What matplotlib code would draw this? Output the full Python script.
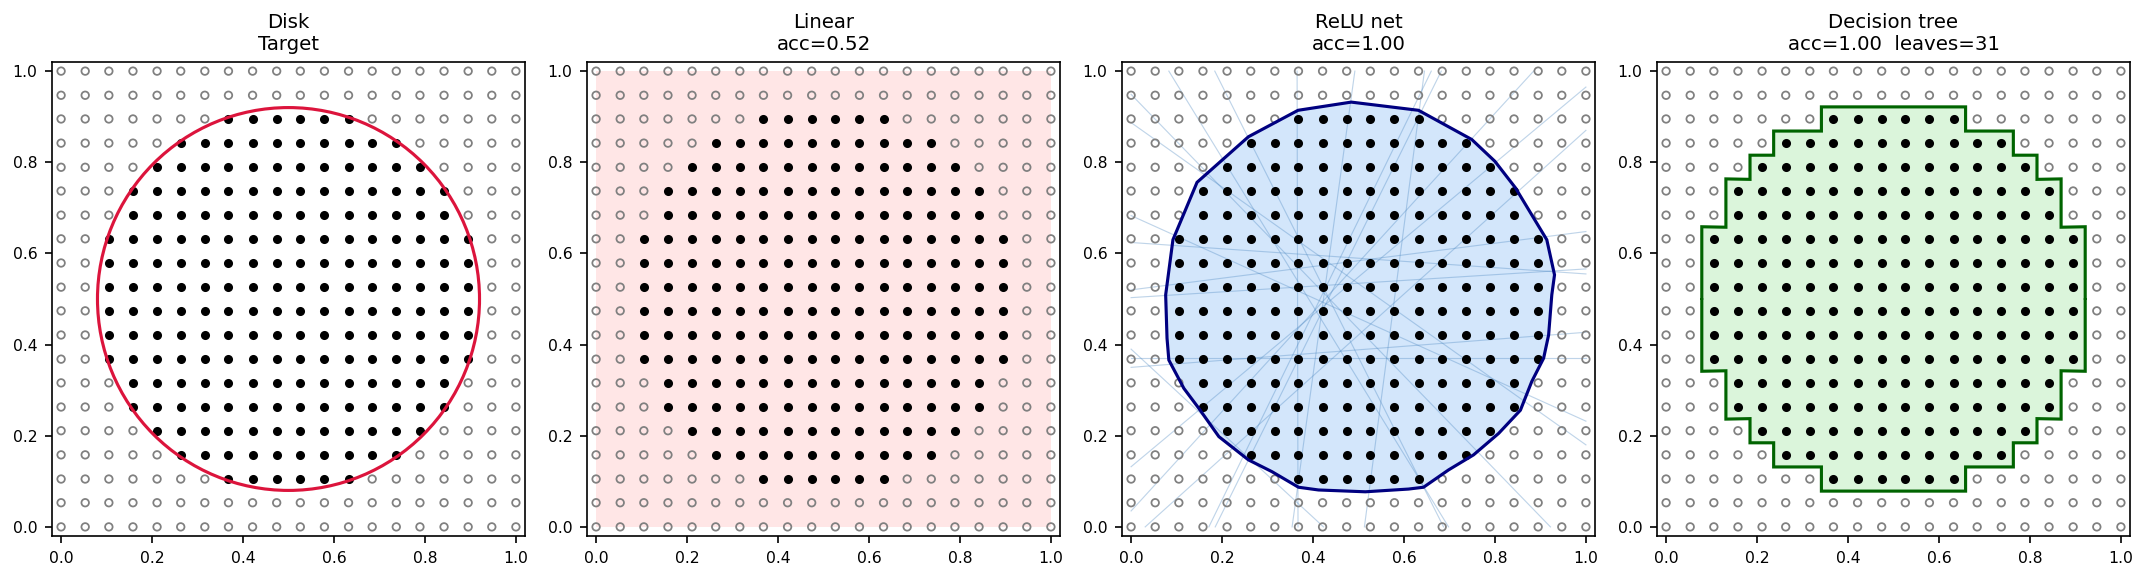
import matplotlib
matplotlib.use('Agg')
import matplotlib.pyplot as plt
from matplotlib.patches import Circle, Polygon

# sample grid (20 x 20 points on the unit square)
grid = [0.0, 0.053, 0.105, 0.158, 0.211, 0.263, 0.316, 0.368, 0.421, 0.474,
        0.526, 0.579, 0.632, 0.684, 0.737, 0.789, 0.842, 0.895, 0.947, 1.0]

# inside-disk points: first / last column index per row (bottom -> top), None = empty row
row_first = [None, None, 7, 5, 4, 3, 3, 2, 2, 2, 2, 2, 2, 3, 3, 4, 5, 7, None, None]
row_last = [None, None, 12, 14, 15, 16, 16, 17, 17, 17, 17, 17, 17, 16, 16, 15, 14, 12, None, None]

disk_center = (0.5, 0.5)
disk_radius = 0.42

titles = ['Disk\nTarget', 'Linear\nacc=0.52', 'ReLU net\nacc=1.00',
          'Decision tree\nacc=1.00  leaves=31']

# ReLU net decision boundary
relu_x = [0.484, 0.632, 0.749, 0.800, 0.845, 0.914, 0.931, 0.925, 0.918, 0.907,
          0.881, 0.856, 0.808, 0.753, 0.698, 0.643, 0.610, 0.515, 0.412, 0.368,
          0.310, 0.258, 0.193, 0.149, 0.116, 0.083, 0.079, 0.076, 0.092, 0.145,
          0.258, 0.367]
relu_y = [0.932, 0.914, 0.850, 0.802, 0.744, 0.630, 0.553, 0.509, 0.421, 0.370,
          0.319, 0.256, 0.205, 0.158, 0.125, 0.087, 0.083, 0.077, 0.081, 0.087,
          0.121, 0.147, 0.198, 0.260, 0.304, 0.366, 0.414, 0.509, 0.630, 0.756,
          0.856, 0.914]

# hidden-unit hyperplanes, clipped to the unit square (x0, y0) -> (x1, y1)
unit_x0 = [0.083, 0.184, 0.365, 0.492, 0.645, 0.682, 0.885, 0.031, 0.0, 0.0,
           0.0, 0.0, 0.0, 0.0, 0.0, 0.0, 0.0, 0.0, 0.171]
unit_y0 = [1.0, 1.0, 1.0, 1.0, 1.0, 1.0, 1.0, 0.0, 0.132, 0.949,
           0.887, 0.683, 0.624, 0.520, 0.503, 0.390, 0.370, 0.350, 0.0]
unit_x1 = [0.698, 0.687, 0.367, 0.354, 0.513, 0.185, 0.0, 1.0, 1.0, 0.922,
           1.0, 1.0, 1.0, 1.0, 1.0, 0.423, 1.0, 1.0, 0.660]
unit_y1 = [0.0, 0.0, 0.0, 0.0, 0.0, 0.0, 0.035, 0.870, 0.965, 0.0,
           0.180, 0.232, 0.555, 0.648, 0.566, 0.0, 0.370, 0.427, 1.0]


def split_points():
    inx, iny, outx, outy = [], [], [], []
    for j, y in enumerate(grid):
        for i, x in enumerate(grid):
            a, b = row_first[j], row_last[j]
            if a is not None and a <= i <= b:
                inx.append(x)
                iny.append(y)
            else:
                outx.append(x)
                outy.append(y)
    return inx, iny, outx, outy


def tree_outline():
    half = (grid[1] - grid[0]) / 2
    right, left = [], []
    for j, y in enumerate(grid):
        if row_first[j] is None:
            continue
        xl = grid[row_first[j]] - half
        xr = grid[row_last[j]] + half
        right += [(xr, y - half), (xr, y + half)]
        left += [(xl, y - half), (xl, y + half)]
    return right + left[::-1]


def main():
    inx, iny, outx, outy = split_points()

    W, H, dpi = 2146, 576, 150
    fig = plt.figure(figsize=(W / dpi, H / dpi), dpi=dpi)

    lefts = [52, 587, 1122, 1657]
    axes = [fig.add_axes([l / W, 40 / H, 473 / W, 474 / H]) for l in lefts]

    for ax, title in zip(axes, titles):
        ax.scatter(outx, outy, s=13, facecolors='none', edgecolors='gray',
                   linewidths=0.85, zorder=2)
        ax.scatter(inx, iny, s=19, color='black', linewidths=0, zorder=2)
        ax.set_xlim(-0.02, 1.02)
        ax.set_ylim(-0.02, 1.02)
        ax.set_xticks([0.0, 0.2, 0.4, 0.6, 0.8, 1.0])
        ax.set_yticks([0.0, 0.2, 0.4, 0.6, 0.8, 1.0])
        ax.tick_params(labelsize=7.5, length=3.5, width=0.8)
        ax.set_title(title, fontsize=9.5)

    # ── Disk target ──
    axes[0].add_patch(Circle(disk_center, disk_radius, fill=False,
                             edgecolor='crimson', linewidth=1.5, zorder=3))

    # ── Linear: predicts one class everywhere ──
    g0, g1 = grid[0], grid[-1]
    axes[1].add_patch(Polygon([(g0, g0), (g1, g0), (g1, g1), (g0, g1)],
                              closed=True, facecolor='#ffe6e6',
                              edgecolor='none', zorder=0))

    # ── ReLU net ──
    ax = axes[2]
    verts = list(zip(relu_x, relu_y))
    ax.add_patch(Polygon(verts, closed=True, facecolor='#d3e6fb',
                         edgecolor='none', zorder=0))
    for x0, y0, x1, y1 in zip(unit_x0, unit_y0, unit_x1, unit_y1):
        ax.plot([x0, x1], [y0, y1], color='#4a86c0', alpha=0.35,
                linewidth=0.55, zorder=1)
    ax.add_patch(Polygon(verts, closed=True, fill=False, edgecolor='navy',
                         linewidth=1.5, zorder=3))

    # ── Decision tree ──
    ax = axes[3]
    outline = tree_outline()
    ax.add_patch(Polygon(outline, closed=True, facecolor='#dbf5db',
                         edgecolor='none', zorder=0))
    ax.add_patch(Polygon(outline, closed=True, fill=False,
                         edgecolor='darkgreen', linewidth=1.5, zorder=3))

    fig.savefig('out.png', dpi=dpi)


if __name__ == '__main__':
    main()
